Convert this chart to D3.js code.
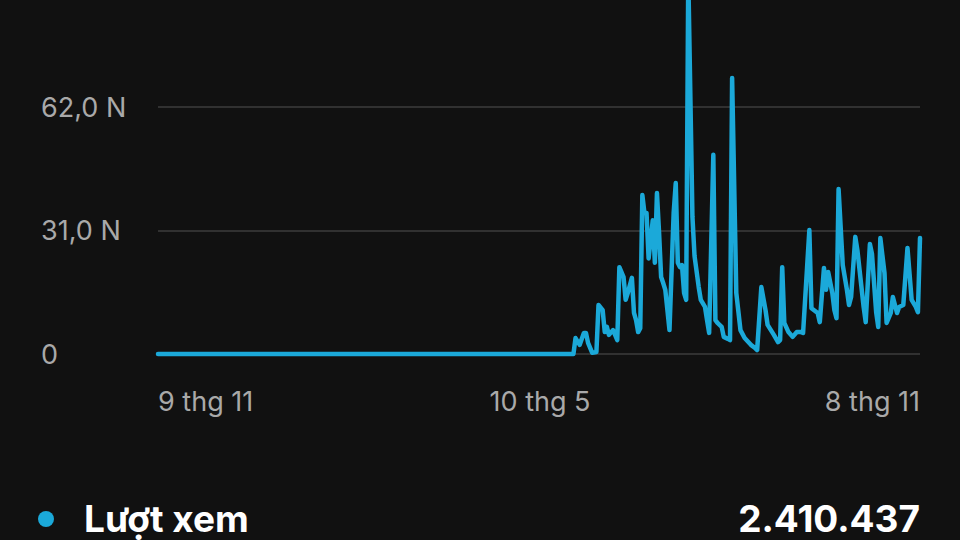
<!DOCTYPE html>
<html>
<head>
<meta charset="utf-8">
<title>Lượt xem</title>
<script src="https://d3js.org/d3.v7.min.js"></script>
<style>
    html, body {
        margin: 0;
        padding: 0;
        background: #111111;
        overflow: hidden;
    }

    svg.chart {
        display: block;
        font-family: Inter, "Noto Sans", sans-serif;
    }

    g.grid line {
        stroke: #313131;
        stroke-width: 2;
        shape-rendering: crispEdges;
    }

    path.line {
        fill: none;
        stroke: #1ba9d9;
        stroke-width: 4.5;
        stroke-linejoin: round;
        stroke-linecap: round;
    }

    text.tick {
        fill: #a9a9a9;
        font-size: 27px;
    }

    text.legend {
        fill: #ffffff;
        font-weight: 700;
        font-size: 37px;
    }
</style>
</head>
<body>
<svg id="views" class="chart" width="960" height="540"></svg>
<script>
// day offsets from 9 thg 11 (2023) and daily views in thousands (N = nghìn)
let dayIndex = [0, 199, 200, 202, 204, 205, 206, 208, 210, 211, 213, 214, 215, 216, 218, 220,
    221, 223, 224, 225, 227, 228, 229, 230, 231, 232, 233, 234, 235, 237, 238, 239, 240, 241,
    242, 243, 245, 247, 248, 249, 250, 251, 252, 253, 254, 256, 257, 259, 260, 262, 263, 264,
    266, 267, 268, 270, 271, 273, 274, 275, 277, 279, 281, 284, 286, 287, 289, 291, 292, 295,
    297, 298, 299, 300, 302, 304, 306, 308, 309, 312, 313, 316, 317, 319, 320, 321, 323, 324,
    325, 326, 328, 330, 331, 332, 334, 335, 338, 339, 341, 342, 344, 345, 346, 348, 349, 351,
    352, 354, 355, 357, 359, 361, 363, 364, 365];
let views = [0, 0, 4.0, 2.3, 5.3, 5.3, 2.8, 0.3, 0.5, 12.3, 11.0, 5.5, 6.8, 4.8, 6.0, 3.5,
    21.8, 19.3, 13.6, 15.3, 19.1, 10.3, 8.5, 5.5, 6.5, 39.9, 35.4, 35.4, 24.0, 33.6, 22.9, 40.4,
    30.6, 19.3, 17.8, 16.1, 6.0, 35.4, 42.9, 22.9, 21.8, 22.3, 15.3, 13.6, 95.0, 34.4, 24.6,
    16.8, 13.6, 11.8, 8.5, 5.3, 50.0, 8.5, 7.8, 6.8, 4.3, 3.8, 3.5, 69.3, 15.3, 6.0, 4.0, 2.3,
    1.5, 1.0, 16.8, 11.0, 7.3, 4.8, 3.0, 3.5, 21.8, 7.8, 5.5, 4.3, 5.5, 5.5, 5.3, 31.1, 11.5,
    10.3, 8.0, 21.6, 16.1, 20.6, 15.3, 11.0, 9.0, 41.4, 22.3, 16.1, 12.3, 14.3, 29.4, 26.1,
    11.8, 8.0, 27.6, 25.1, 10.5, 6.8, 29.1, 20.3, 7.8, 10.3, 14.3, 10.3, 11.8, 12.3, 26.6,
    13.6, 11.8, 10.5, 29.1];

let startDate = new Date(Date.UTC(2023, 10, 9));
let endDate = new Date(Date.UTC(2024, 10, 8));
let yTicks = [0, 31, 62];
let yTickLabels = ['0', '31,0 N', '62,0 N'];
let xTicks = [new Date(Date.UTC(2023, 10, 9)), new Date(Date.UTC(2024, 4, 10)), new Date(Date.UTC(2024, 10, 8))];
let xTickLabels = ['9 thg 11', '10 thg 5', '8 thg 11'];
let seriesName = 'Lượt xem';
let seriesTotal = '2.410.437';

let data = dayIndex.map(function(d, i) {
    return { date: d3.utcDay.offset(startDate, d), value: views[i] };
});

let svg = d3.select('svg#views');

let x_scale = d3.scaleUtc()
    .domain([startDate, endDate])
    .range([158, 920]);
let y_scale = d3.scaleLinear()
    .domain([0, 62])
    .range([354, 107]);

// grid
svg.append('g')
    .classed('grid', true)
    .selectAll('line')
    .data(yTicks)
    .enter()
    .append('line')
    .attr('x1', x_scale.range()[0])
    .attr('x2', x_scale.range()[1])
    .attr('y1', function(d) { return y_scale(d); })
    .attr('y2', function(d) { return y_scale(d); });

// y labels
svg.append('g')
    .selectAll('text')
    .data(yTicks)
    .enter()
    .append('text')
    .classed('tick', true)
    .attr('x', 41)
    .attr('y', function(d) { return y_scale(d); })
    .attr('dy', '0.36em')
    .text(function(d, i) { return yTickLabels[i]; });

// x labels: first left, middle centred, last right
let anchors = ['start', 'middle', 'end'];
svg.append('g')
    .selectAll('text')
    .data(xTicks)
    .enter()
    .append('text')
    .classed('tick', true)
    .attr('x', function(d) { return x_scale(d); })
    .attr('y', 401)
    .attr('dy', '0.36em')
    .attr('text-anchor', function(d, i) { return anchors[i]; })
    .text(function(d, i) { return xTickLabels[i]; });

let curve = d3.line()
    .x(function(d) { return x_scale(d.date); })
    .y(function(d) { return y_scale(d.value); });

svg.append('path')
    .classed('line', true)
    .attr('d', curve(data));

// legend
svg.append('circle')
    .attr('cx', 46)
    .attr('cy', 519)
    .attr('r', 8)
    .attr('fill', '#1ba9d9');
svg.append('text')
    .classed('legend', true)
    .attr('x', 84)
    .attr('y', 532)
    .text(seriesName);
svg.append('text')
    .classed('legend', true)
    .attr('x', 920)
    .attr('y', 532)
    .attr('text-anchor', 'end')
    .text(seriesTotal);
</script>
</body>
</html>
